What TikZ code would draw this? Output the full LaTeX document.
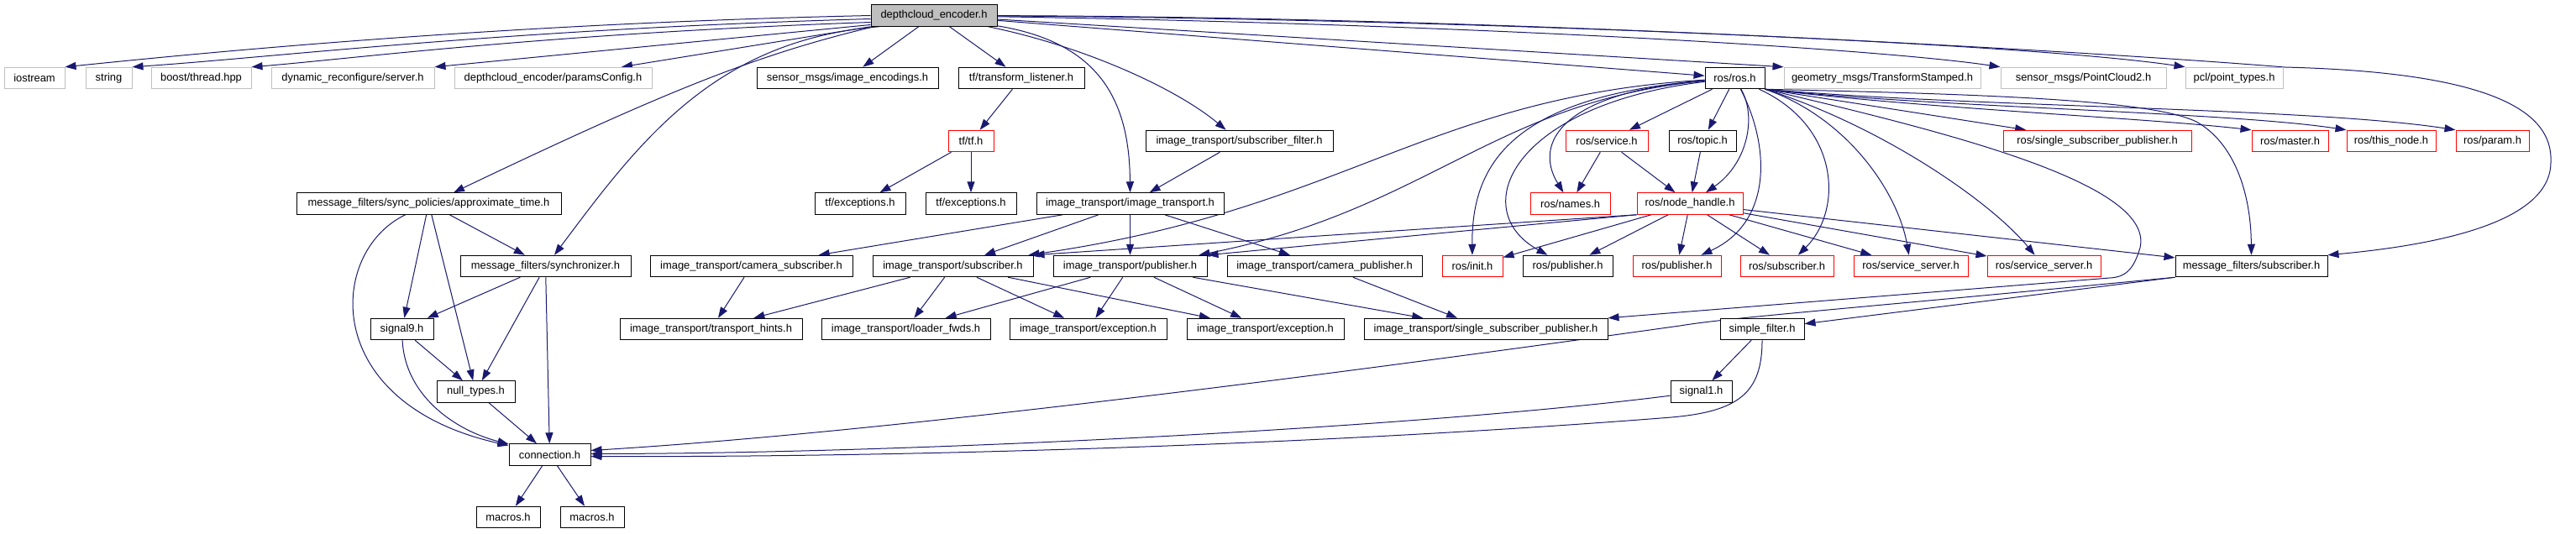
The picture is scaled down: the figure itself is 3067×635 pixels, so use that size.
\documentclass[tikz,border=0pt]{standalone}
\usepackage{fontspec}
\setmainfont{Liberation Sans}
\usetikzlibrary{arrows.meta}
\definecolor{edgeblue}{HTML}{191970}
\definecolor{greyseventyfive}{HTML}{BFBFBF}
\pgfdeclarelayer{edgelayer}
\pgfsetlayers{edgelayer,main}
\begin{document}
\begin{tikzpicture}[x=1pt,y=-1pt,
  nb/.style={draw=black, line width=1pt, rectangle, minimum height=25.5pt, inner sep=0pt, font=\fontsize{12.9}{14}\selectfont, text=black, fill=white},
  gb/.style={nb, draw=greyseventyfive},
  rb/.style={nb, draw=red},
  dep/.style={draw=edgeblue, line width=1pt, -{Triangle[length=13pt,width=9pt]}, fill=none},
]
\useasboundingbox (0,0) rectangle (3067,635);

% ---------- nodes ----------
\node[nb, fill=greyseventyfive, minimum width=150pt] (D) at (1112,18.5) {depthcloud\_encoder.h};
% row 1
\node[gb, minimum width=72pt]  (iostream) at (41,93) {iostream};
\node[gb, minimum width=55pt]  (string) at (129.5,93) {string};
\node[gb, minimum width=119pt] (boost) at (239.5,93) {boost/thread.hpp};
\node[gb, minimum width=194pt] (dynrec) at (420,93) {dynamic\_reconfigure/server.h};
\node[gb, minimum width=235pt] (params) at (658.5,93) {depthcloud\_encoder/paramsConfig.h};
\node[nb, minimum width=216pt] (imgenc) at (1009,93) {sensor\_msgs/image\_encodings.h};
\node[nb, minimum width=150pt] (tflist) at (1216,93) {tf/transform\_listener.h};
\node[nb, minimum width=71pt]  (R) at (2065.5,93) {ros/ros.h};
\node[gb, minimum width=234pt] (geom) at (2241,93) {geometry\_msgs/TransformStamped.h};
\node[gb, minimum width=197pt] (pc2) at (2480.5,93) {sensor\_msgs/PointCloud2.h};
\node[gb, minimum width=116pt] (pcl) at (2660,93) {pcl/point\_types.h};
% row 2
\node[rb, minimum width=54pt]  (tftf) at (1156,168) {tf/tf.h};
\node[nb, minimum width=223pt] (subfilt) at (1475.5,168) {image\_transport/subscriber\_filter.h};
\node[rb, minimum width=98pt]  (service) at (1913,168) {ros/service.h};
\node[nb, minimum width=80pt]  (topic) at (2027,168) {ros/topic.h};
\node[rb, minimum width=224pt] (rossspub) at (2497,168) {ros/single\_subscriber\_publisher.h};
\node[rb, minimum width=91pt]  (master) at (2726.5,168) {ros/master.h};
\node[rb, minimum width=106pt] (thisnode) at (2847,168) {ros/this\_node.h};
\node[rb, minimum width=87pt]  (param) at (2967.5,168) {ros/param.h};
% row 3
\node[nb, minimum width=315pt] (approx) at (510.5,242.5) {message\_filters/sync\_policies/approximate\_time.h};
\node[nb, minimum width=108pt] (tfexc1) at (1024,242.5) {tf/exceptions.h};
\node[nb, minimum width=108pt] (tfexc2) at (1156,242.5) {tf/exceptions.h};
\node[nb, minimum width=223pt] (imgtr) at (1345.5,242.5) {image\_transport/image\_transport.h};
\node[rb, minimum width=95pt]  (names) at (1869.5,242.5) {ros/names.h};
\node[rb, minimum width=126pt] (nh) at (2012,242.5) {ros/node\_handle.h};
% row 4
\node[nb, minimum width=203pt] (sync) at (649.5,317) {message\_filters/synchronizer.h};
\node[nb, minimum width=241pt] (camsub) at (894.5,317) {image\_transport/camera\_subscriber.h};
\node[nb, minimum width=191pt] (itsub) at (1134.5,317) {image\_transport/subscriber.h};
\node[nb, minimum width=183pt] (itpub) at (1345.5,317) {image\_transport/publisher.h};
\node[nb, minimum width=232pt] (campub) at (1577,317) {image\_transport/camera\_publisher.h};
\node[rb, minimum width=72pt]  (init) at (1753,317) {ros/init.h};
\node[nb, minimum width=107pt] (pubblk) at (1866.5,317) {ros/publisher.h};
\node[rb, minimum width=105pt] (pubred) at (1996.5,317) {ros/publisher.h};
\node[rb, minimum width=111pt] (rossub) at (2127.5,317) {ros/subscriber.h};
\node[rb, minimum width=136pt] (ssa) at (2275,317) {ros/service\_server.h};
\node[rb, minimum width=135pt] (ssb) at (2433.5,317) {ros/service\_server.h};
\node[nb, minimum width=181pt] (mfsub) at (2680.5,317) {message\_filters/subscriber.h};
% row 5
\node[nb, minimum width=75pt]  (sig9) at (478.5,392) {signal9.h};
\node[nb, minimum width=217pt] (hints) at (846.5,392) {image\_transport/transport\_hints.h};
\node[nb, minimum width=201pt] (loader) at (1078.5,392) {image\_transport/loader\_fwds.h};
\node[nb, minimum width=187pt] (exca) at (1295.5,392) {image\_transport/exception.h};
\node[nb, minimum width=187pt] (excb) at (1506.5,392) {image\_transport/exception.h};
\node[nb, minimum width=290pt] (itssp) at (1769,392) {image\_transport/single\_subscriber\_publisher.h};
\node[nb, minimum width=100pt] (simple) at (2098,392) {simple\_filter.h};
% row 6-8
\node[nb, minimum width=93pt]  (null) at (566.5,466.5) {null\_types.h};
\node[nb, minimum width=73pt]  (sigone) at (2025.5,466.5) {signal1.h};
\node[nb, minimum width=97pt]  (conn) at (654.5,541.5) {connection.h};
\node[nb, minimum width=76pt]  (maca) at (605,616) {macros.h};
\node[nb, minimum width=76pt]  (macb) at (705,616) {macros.h};

\begin{pgfonlayer}{edgelayer}
% ---------- edges from depthcloud_encoder.h ----------
\draw[dep] (D.west) .. controls (600,28) and (250,62) .. (iostream.north east);
\draw[dep] ([yshift=-4pt]D.west) .. controls (600,35) and (330,68) .. (string.north east);
\draw[dep] ([yshift=-8pt]D.west) .. controls (650,40) and (420,70) .. (boost.north east);
\draw[dep] ([yshift=-11pt]D.west) -- (dynrec.north east);
\draw[dep] (D.south west) -- ([xshift=81.5pt]params.north);
\draw[dep] ([xshift=4pt]D.south west) .. controls (900,65) and (790,110) .. ([xshift=29.5pt]approx.north);
\draw[dep] ([xshift=10pt]D.south west) .. controls (850,48) and (760,170) .. ([xshift=10.5pt]sync.north);
\draw[dep] (D) -- (imgenc);
\draw[dep] (D) -- (tflist);
\draw[dep] (D) .. controls (1305,50) and (1345,115) .. (imgtr);
\draw[dep] (D) .. controls (1290,55) and (1400,105) .. (subfilt);
\draw[dep] (D) -- (R);
\draw[dep] (D) -- (geom.north west);
\draw[dep] (D) .. controls (1800,30) and (2250,60) .. (pc2.north west);
\draw[dep] (D) .. controls (1700,22) and (2400,50) .. (pcl.north west);
\draw[dep] (D) .. controls (1800,20) and (2500,62) .. (2720,80)
  .. controls (2960,86) and (3040,130) .. (3037,193)
  .. controls (3037,260) and (2920,290) .. (mfsub.north east);

% ---------- tf / image_transport ----------
\draw[dep] (tflist) -- (tftf);
\draw[dep] (tftf) -- (tfexc1);
\draw[dep] (tftf) -- (tfexc2);
\draw[dep] (subfilt) -- (imgtr);
\draw[dep] (imgtr) -- (camsub);
\draw[dep] (imgtr) -- (itsub);
\draw[dep] (imgtr) -- (itpub);
\draw[dep] (imgtr) -- (campub);
\draw[dep] (camsub) -- (hints);
\draw[dep] (itsub) -- (hints);
\draw[dep] (itsub) -- (loader);
\draw[dep] (itsub) -- (exca);
\draw[dep] (itsub) -- (excb);
\draw[dep] (itpub) -- (loader);
\draw[dep] (itpub) -- (exca);
\draw[dep] (itpub) -- (excb);
\draw[dep] (itpub) -- (itssp);
\draw[dep] (campub) -- (itssp);

% ---------- message_filters ----------
\draw[dep] (approx) -- (sync);
\draw[dep] (approx) -- (sig9);
\draw[dep] (approx) -- (null);
\draw[dep] (approx) .. controls (390,300) and (380,480) .. (conn);
\draw[dep] (sync) -- (sig9);
\draw[dep] (sync) -- (null);
\draw[dep] (sync) -- (conn);
\draw[dep] (sig9) -- (null);
\draw[dep] (sig9) .. controls (482,470) and (540,512) .. (conn);
\draw[dep] (null) -- (conn);
\draw[dep] (conn) -- (maca);
\draw[dep] (conn) -- (macb);
\draw[dep] (mfsub.south west) -- (simple);
\draw[dep] (mfsub.south west) .. controls (2200,368) and (2060,378) .. (2000,388)
  .. controls (1700,430) and (1100,512) .. ([yshift=5pt]conn.east);
\draw[dep] (simple) -- (sigone);
\draw[dep] (sigone) .. controls (1700,508) and (1100,540) .. ([yshift=1pt]conn.east);
\draw[dep] (simple) .. controls (2098,468) and (2070,490) .. (1990,497)
  .. controls (1600,528) and (1100,545) .. ([yshift=-2pt]conn.east);

% ---------- edges from ros/ros.h ----------
\draw[dep] (R) -- (service);
\draw[dep] (R) -- (topic);
\draw[dep] (R) .. controls (2092,140) and (2080,195) .. (nh);
\draw[dep] (R) .. controls (1860,110) and (1825,170) .. (names);
\draw[dep] (R) .. controls (1800,115) and (1752,195) .. (init);
\draw[dep] (R) .. controls (1800,125) and (1745,250) .. (pubblk);
\draw[dep] (R) .. controls (2108,175) and (2110,265) .. (pubred);
\draw[dep] (R) .. controls (2190,150) and (2195,250) .. (rossub);
\draw[dep] (R.south east) .. controls (2200,140) and (2260,230) .. (ssa);
\draw[dep] (R.south east) .. controls (2240,150) and (2370,240) .. (ssb);
\draw[dep] (R.south east) -- (rossspub);
\draw[dep] (R.south east) .. controls (2300,130) and (2550,140) .. (master.north west);
\draw[dep] (R.south east) .. controls (2300,128) and (2650,133) .. (thisnode.north west);
\draw[dep] (R.south east) .. controls (2350,128) and (2750,128) .. (param.north west);
\draw[dep] (R.south east) .. controls (2350,112) and (2560,118) .. (2615,145)
  .. controls (2660,170) and (2680,230) .. (mfsub);
\draw[dep] (R) .. controls (1700,115) and (1600,250) .. ([xshift=-6pt]itsub.north east);
\draw[dep] (R) .. controls (1780,120) and (1700,250) .. ([xshift=-10pt]itpub.north east);
\draw[dep] (R.south east) .. controls (2330,160) and (2565,220) .. (2548,295)
  .. controls (2540,322) and (2530,330) .. (2512,331) -- (itssp.north east);

% ---------- ros/service.h, ros/topic.h ----------
\draw[dep] (service) -- (names);
\draw[dep] (service) -- (nh);
\draw[dep] (topic) -- (nh);

% ---------- edges from ros/node_handle.h ----------
\draw[dep] (nh.south west) -- (itsub.north east);
\draw[dep] (nh.south west) -- (itpub.north east);
\draw[dep] (nh) -- (init);
\draw[dep] (nh) -- (pubblk);
\draw[dep] (nh) -- (pubred);
\draw[dep] (nh) -- (rossub);
\draw[dep] (nh) -- (ssa);
\draw[dep] (nh) -- (ssb);
\draw[dep] (nh) -- (mfsub);
\end{pgfonlayer}
\end{tikzpicture}
\end{document}
